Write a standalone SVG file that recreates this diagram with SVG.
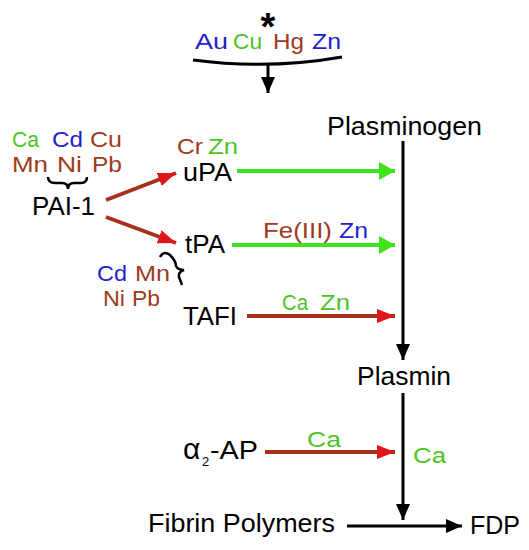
<svg xmlns="http://www.w3.org/2000/svg" width="529" height="550" viewBox="0 0 529 550">
<style>
text{font-family:"Liberation Sans",Arial,sans-serif;font-size:22px;fill:#000}
.lbl{font-size:25px}
.b{fill:#2222cc}
.g{fill:#4cc424}
.r{fill:#9e3a1e}
.blk{stroke:#000;stroke-width:3;fill:none}
.red{stroke:#a8301a;stroke-width:4;fill:none}
.grn{stroke:#3fe31c;stroke-width:4;fill:none}
.brace{stroke:#000;stroke-width:2.5;fill:none}
</style>
<defs>
<marker id="ab" markerUnits="userSpaceOnUse" markerWidth="18" markerHeight="16" refX="16" refY="7" orient="auto"><path d="M0,0 L16,7 L0,14 Z" fill="#000"/></marker>
<marker id="ar" markerUnits="userSpaceOnUse" markerWidth="20" markerHeight="16" refX="18" refY="7" orient="auto"><path d="M0,0 L18,7 L0,14 Z" fill="#e0161a"/></marker>
<marker id="ag" markerUnits="userSpaceOnUse" markerWidth="18" markerHeight="20" refX="16" refY="9" orient="auto"><path d="M0,0 L16,9 L0,18 Z" fill="#3fe31c"/></marker>
</defs>
<g id="connectors">
<path class="blk" d="M193,60 Q268,70 342,57"/>
<line class="blk" x1="268" y1="63" x2="268" y2="93" marker-end="url(#ab)"/>
<line class="blk" x1="403" y1="141" x2="403" y2="360" marker-end="url(#ab)"/>
<line class="blk" x1="403" y1="393" x2="403" y2="520" marker-end="url(#ab)"/>
<line class="blk" x1="347" y1="526" x2="462" y2="526" marker-end="url(#ab)"/>
<line class="red" x1="106" y1="200" x2="176" y2="173" marker-end="url(#ar)"/>
<line class="red" x1="106" y1="217" x2="176" y2="243" marker-end="url(#ar)"/>
<line class="grn" x1="237" y1="171" x2="395" y2="171" marker-end="url(#ag)"/>
<line class="grn" x1="232" y1="245" x2="395" y2="245" marker-end="url(#ag)"/>
<line class="red" x1="247" y1="316" x2="395" y2="316" marker-end="url(#ar)"/>
<line class="red" x1="265" y1="452" x2="395" y2="452" marker-end="url(#ar)"/>
<path class="brace" d="M48,177 Q48,183 55,183 L62,183 Q68,183 68,189 Q68,183 74,183 L81,183 Q87,183 87,177"/>
<path class="brace" d="M160,257 Q164,250 170,255 Q176,261 176,266 Q178,270 184,270 Q178,272 179,277 Q181,282 182,285"/>
</g>
<g id="star"><text x="268" y="40" text-anchor="middle" style="font-size:38px;font-weight:bold">*</text></g>
<g id="metals-top">
<text x="195" y="49" class="b" textLength="33" lengthAdjust="spacingAndGlyphs">Au</text>
<text x="233" y="49" class="g" textLength="29" lengthAdjust="spacingAndGlyphs">Cu</text>
<text x="273" y="49" class="r" textLength="31" lengthAdjust="spacingAndGlyphs">Hg</text>
<text x="312" y="49" class="b" textLength="29" lengthAdjust="spacingAndGlyphs">Zn</text>
</g>
<g id="metals-pai">
<text x="12" y="147" class="g" textLength="27" lengthAdjust="spacingAndGlyphs">Ca</text>
<text x="52" y="147" class="b" textLength="31" lengthAdjust="spacingAndGlyphs">Cd</text>
<text x="90" y="147" class="r" textLength="32" lengthAdjust="spacingAndGlyphs">Cu</text>
<text x="12" y="172" class="r" textLength="36" lengthAdjust="spacingAndGlyphs">Mn</text>
<text x="57" y="172" class="r" textLength="25" lengthAdjust="spacingAndGlyphs">Ni</text>
<text x="92" y="172" class="r" textLength="30" lengthAdjust="spacingAndGlyphs">Pb</text>
</g>
<g id="pai1"><text x="32" y="215" class="lbl" textLength="63" lengthAdjust="spacingAndGlyphs">PAI-1</text></g>
<g id="upa">
<text x="177" y="154" class="r" textLength="26" lengthAdjust="spacingAndGlyphs">Cr</text>
<text x="208" y="154" class="g" textLength="30" lengthAdjust="spacingAndGlyphs">Zn</text>
<text x="183" y="181" class="lbl" textLength="49" lengthAdjust="spacingAndGlyphs">uPA</text>
</g>
<g id="tpa">
<text x="185" y="253" class="lbl" textLength="40" lengthAdjust="spacingAndGlyphs">tPA</text>
<text x="263" y="238" class="r" textLength="69" lengthAdjust="spacingAndGlyphs">Fe(III)</text>
<text x="339" y="238" class="b" textLength="29" lengthAdjust="spacingAndGlyphs">Zn</text>
<text x="97" y="281" class="b" textLength="30" lengthAdjust="spacingAndGlyphs">Cd</text>
<text x="135" y="281" class="r" textLength="35" lengthAdjust="spacingAndGlyphs">Mn</text>
<text x="103" y="306" class="r" textLength="22" lengthAdjust="spacingAndGlyphs">Ni</text>
<text x="132" y="306" class="r" textLength="28" lengthAdjust="spacingAndGlyphs">Pb</text>
</g>
<g id="tafi">
<text x="183" y="325" class="lbl" textLength="54" lengthAdjust="spacingAndGlyphs">TAFI</text>
<text x="282" y="310" class="g" textLength="26" lengthAdjust="spacingAndGlyphs">Ca</text>
<text x="320" y="310" class="g" textLength="30" lengthAdjust="spacingAndGlyphs">Zn</text>
</g>
<g id="plasminogen"><text x="327" y="135" class="lbl" textLength="155" lengthAdjust="spacingAndGlyphs">Plasminogen</text></g>
<g id="plasmin"><text x="357" y="385" class="lbl" textLength="94" lengthAdjust="spacingAndGlyphs">Plasmin</text></g>
<g id="a2ap">
<text x="183" y="459" style="font-size:30px">α</text>
<text x="202" y="466" style="font-size:13px">2</text>
<text x="210" y="459" class="lbl" textLength="48" lengthAdjust="spacingAndGlyphs">-AP</text>
<text x="307" y="447" class="g" textLength="34" lengthAdjust="spacingAndGlyphs">Ca</text>
<text x="413" y="463" class="g" textLength="33" lengthAdjust="spacingAndGlyphs">Ca</text>
</g>
<g id="fibrin"><text x="148" y="532" class="lbl" textLength="187" lengthAdjust="spacingAndGlyphs">Fibrin Polymers</text></g>
<g id="fdp"><text x="470" y="534" class="lbl" textLength="50" lengthAdjust="spacingAndGlyphs">FDP</text></g>
</svg>
